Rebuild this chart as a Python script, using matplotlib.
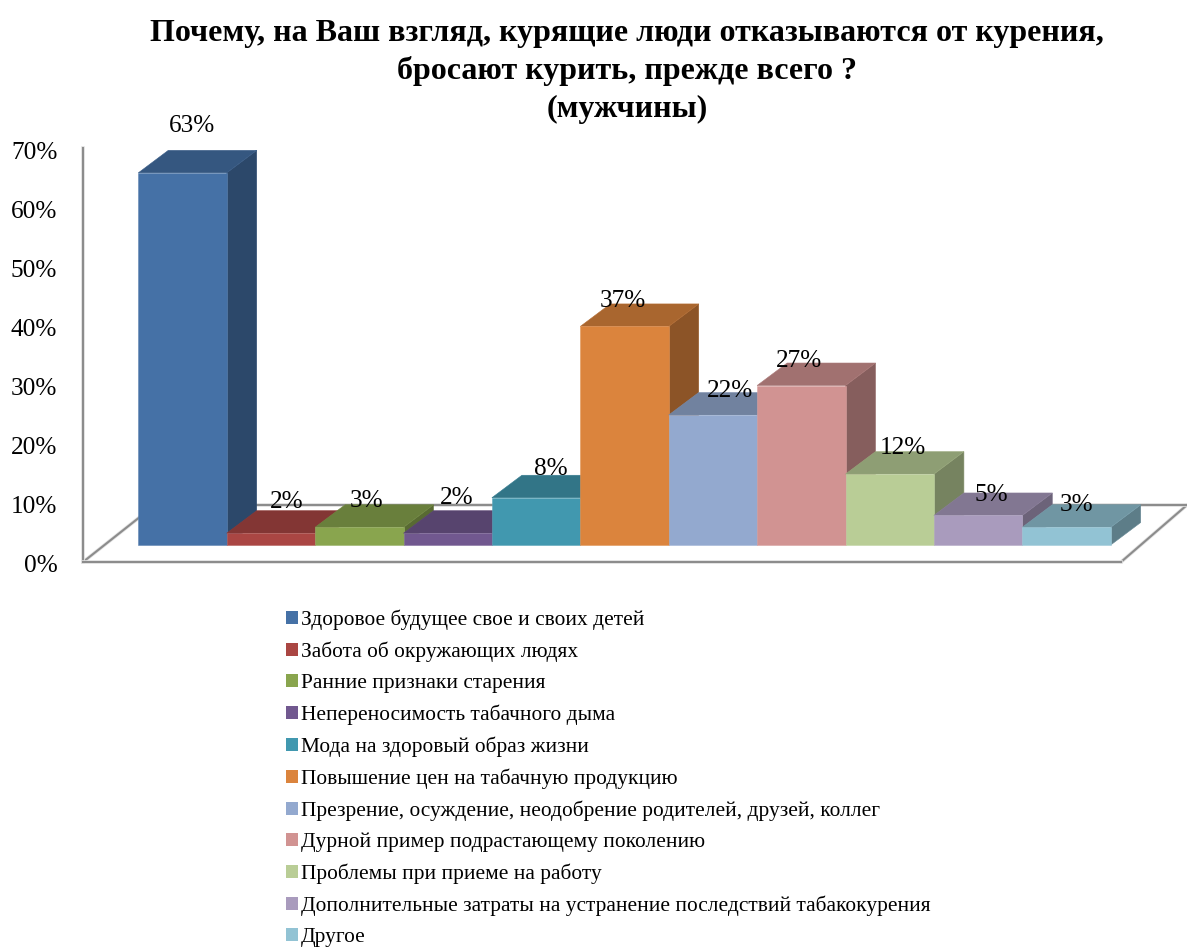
import matplotlib
matplotlib.use('Agg')
import matplotlib.pyplot as plt
import matplotlib.patheffects as pe
from matplotlib.patches import Polygon, Patch
from matplotlib.ticker import PercentFormatter
from matplotlib.transforms import ScaledTranslation
import matplotlib.colors as mcolors

categories = [
    'Здоровое будущее свое и своих детей',
    'Забота об окружающих людях',
    'Ранние признаки старения',
    'Непереносимость табачного дыма',
    'Мода на здоровый образ жизни',
    'Повышение цен на табачную продукцию',
    'Презрение, осуждение, неодобрение родителей, друзей, коллег',
    'Дурной пример подрастающему поколению',
    'Проблемы при приеме на работу',
    'Дополнительные затраты на устранение последствий табакокурения',
    'Другое',
]
values = [63, 2, 3, 2, 8, 37, 22, 27, 12, 5, 3]
colors = ['#4571A6', '#AA4643', '#89A54E', '#71588F', '#4198AF', '#DB843D',
          '#93A9CF', '#D19392', '#B9CD96', '#A99BBD', '#92C3D4']
# label nudges in pixels, the labels sit off-centre over the bars
label_dx = [10, 16, 7, 9, 15, -2, 17, -2, 13, 13, 10]
label_dy = [24, 9, 4, 13, 6, 3, 2, 2, 4, -2, 0]

W, H = 1187, 947
plt.rcParams['font.family'] = ['Liberation Serif', 'DejaVu Serif']

fig = plt.figure(figsize=(W / 100, H / 100), dpi=100)
ax = fig.add_axes([83 / W, 1 - 562 / H, (1121 - 83) / W, (562 - 148.5) / H])
ax.patch.set_visible(False)

# one bar slot is 88.4 px wide, one percent is 5.9 px high
px_x = 88.4
px_y = (562 - 148.5) / 70
ax.set_xlim(-(138.3 - 83) / px_x, (1121 - 138.3) / px_x)
ax.set_ylim(0, 70)
ax.set_xticks([])
ax.set_yticks(range(0, 71, 10))
ax.yaxis.set_major_formatter(PercentFormatter(decimals=0))
ax.tick_params(axis='y', length=0, pad=18.5, labelsize=18.2)

glow = [pe.withStroke(linewidth=2.6, foreground='#e2e2e2')]
for s in ['top', 'right']:
    ax.spines[s].set_visible(False)
for s in ['left', 'bottom']:
    ax.spines[s].set_color('#8c8c8c')
    ax.spines[s].set_linewidth(1.5)
    ax.spines[s].set_path_effects(glow)

# tick labels sit slightly under their gridline height
down = ScaledTranslation(0, -2 / 100, fig.dpi_scale_trans)
for lab in ax.get_yticklabels():
    lab.set_transform(lab.get_transform() + down)

lift = 17 / px_y      # front edge of the bars above the floor corner
dx = 30 / px_x        # depth of the 3d effect
dy = 22.5 / px_y
x_min, x_max = ax.get_xlim()
back_y = 57 / px_y

# floor outline behind the bars
line = dict(color='#8c8c8c', lw=1.5, clip_on=False, solid_capstyle='round', zorder=1,
            path_effects=glow)
ax.plot([x_min, x_min + 72 / px_x], [0, back_y], **line)
ax.plot([x_max, x_max + 66 / px_x], [0, back_y], **line)
ax.plot([x_min + 72 / px_x, x_max + 66 / px_x], [back_y, back_y], **line)


def shade(color, k):
    r, g, b = mcolors.to_rgb(color)
    return (r * k, g * k, b * k)


def lighter(color):
    r, g, b = mcolors.to_rgb(color)
    return (r + (1 - r) * .15, g + (1 - g) * .15, b + (1 - b) * .15)


for i, (v, c) in enumerate(zip(values, colors)):
    y0, y1 = lift, lift + v
    z = 3 + i
    front = [(i, y0), (i + 1, y0), (i + 1, y1), (i, y1)]
    top = [(i, y1), (i + 1, y1), (i + 1 + dx, y1 + dy), (i + dx, y1 + dy)]
    side = [(i + 1, y0), (i + 1 + dx, y0 + dy), (i + 1 + dx, y1 + dy), (i + 1, y1)]
    edge = lighter(c)
    ax.add_patch(Polygon(side, fc=shade(c, .64), ec=shade(c, .7), lw=.4, zorder=z, clip_on=False))
    ax.add_patch(Polygon(top, fc=shade(c, .77), ec=shade(c, .82), lw=.4, zorder=z, clip_on=False))
    ax.add_patch(Polygon(front, fc=c, ec=edge, lw=.4, zorder=z, clip_on=False))

for i, v in enumerate(values):
    ax.annotate(f'{v}%', (i + .5, lift + v + dy), xytext=(label_dx[i] * .72, label_dy[i] * .72),
                textcoords='offset points', ha='center', va='center', fontsize=18.2,
                color='black', zorder=30, annotation_clip=False)

fig.text(627 / W, 1 - 33 / H, 'Почему, на Ваш взгляд, курящие люди отказываются от курения,',
         ha='center', va='center', fontsize=23, fontweight='bold')
fig.text(627 / W, 1 - 71 / H, 'бросают курить, прежде всего ?',
         ha='center', va='center', fontsize=23, fontweight='bold')
fig.text(627 / W, 1 - 109 / H, '(мужчины)',
         ha='center', va='center', fontsize=23, fontweight='bold')

handles = [Patch(fc=c, ec='none') for c in colors]
fig.legend(handles, categories, loc='upper left', bbox_to_anchor=(286 / W, 1 - 609.5 / H),
           frameon=False, fontsize=15.4, borderpad=0, borderaxespad=0,
           handlelength=.56, handleheight=.56, handletextpad=.14, labelspacing=.54)

fig.savefig('out.png', dpi=100)
